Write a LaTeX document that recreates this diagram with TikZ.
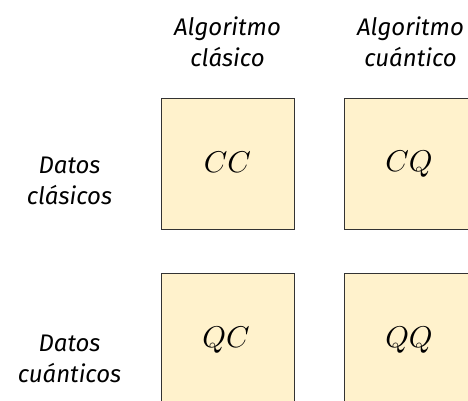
\documentclass[tikz,border=0pt]{standalone}
\usepackage{graphicx}
\usepackage{fontspec}
\setmainfont{Fira Sans}
\definecolor{boxfill}{HTML}{FFF2CC}
\definecolor{boxline}{HTML}{333333}
\newcommand{\cellmath}[1]{\scalebox{3.0}{$#1$}}
\begin{document}
\begin{tikzpicture}[x=1pt,y=-1pt,
  cell/.style={draw=boxline, line width=1pt, fill=boxfill, minimum width=133pt, minimum height=131pt, inner sep=0pt},
  celltext/.style={inner sep=0pt},
  head/.style={align=center, font=\itshape\fontsize{24}{31}\selectfont, inner sep=0pt}]
  \useasboundingbox (0,0) rectangle (468,400);
  \clip (0,0) rectangle (468,400);
  % quadrant boxes
  \node[cell] (cc) at (227.5,163.5) {};
  \node[cell] (cq) at (410.5,163.5) {};
  \node[cell] (qc) at (227.5,338.5) {};
  \node[cell] (qq) at (410.5,338.5) {};
  \node[celltext] (tcc) at (227.5,162) {\cellmath{CC}};
  \node[celltext] (tcq) at (409,164) {\cellmath{CQ}};
  \node[celltext] (tqc) at (226,340) {\cellmath{QC}};
  \node[celltext] (tqq) at (409,340) {\cellmath{QQ}};
  % column headings
  \node[head] (ac) at (227.5,42) {Algoritmo\\clásico};
  \node[head] (aq) at (410.5,42) {Algoritmo\\cuántico};
  % row headings
  \node[head] (dc) at (69.5,181) {Datos\\clásicos};
  \node[head] (dq) at (69.5,359) {Datos\\cuánticos};
\end{tikzpicture}
\end{document}
